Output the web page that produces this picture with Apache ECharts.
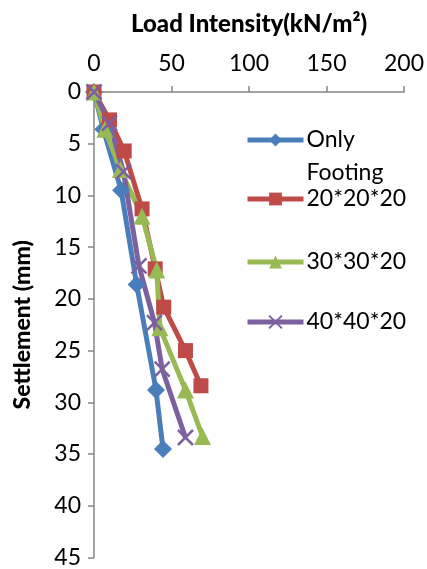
<!DOCTYPE html>
<html style="height: 100%">
<head>
	<meta charset="utf-8">
	<title></title>
	<script type="text/javascript" src="https://cdn.jsdelivr.net/npm/echarts@6/dist/echarts.min.js"></script>
</head>
<body style="height: 100%; margin: 0; background: #fff">
<div id="container" style="width: 427px; height: 569px"></div>
<script type="text/javascript">
	// [load intensity kN/m2, settlement mm]
	var onlyFooting = [[0, 0], [6, 3.6], [17.5, 9.5], [27.5, 18.6], [40, 28.8], [44.5, 34.5]];
	var s20 = [[0, 0], [10, 2.7], [19.5, 5.7], [31, 11.3], [39.5, 17.1], [45, 20.8], [59, 25], [69, 28.4]];
	var s30 = [[0, 0], [7, 3.6], [17, 7.5], [31, 12], [40.5, 17.2], [42.5, 22.8], [59, 28.8], [70, 33.3]];
	var s40 = [[0, 0], [10, 3], [19, 7.7], [29, 16.8], [39, 22.3], [44, 26.8], [59, 33.4]];
	var seriesNames = ['Only Footing', '20*20*20', '30*30*20', '40*40*20'];
	var colors = ['#4a7ebb', '#be4b48', '#98b954', '#7d60a0'];
	var symbols = ['diamond', 'rect', 'triangle', 'path://M0,0 L10,10 M10,0 L0,10'];
	var symbolSizes = [18, 15, 17, 15];
	var allData = [onlyFooting, s20, s30, s40];

	var dom = document.getElementById('container');
	var myChart = echarts.init(dom);
	var font = 'Lato';
	var axisColor = '#868686';

	var series = [];
	var legends = [];
	var legendCenters = [140, 199, 262, 322];
	for (var i = 0; i < allData.length; i++) {
		series.push({
			name: seriesNames[i],
			type: 'line',
			data: allData[i],
			symbol: symbols[i],
			symbolSize: symbolSizes[i],
			showAllSymbol: true,
			lineStyle: {width: 5, color: colors[i]},
			itemStyle: {color: colors[i], borderColor: colors[i], borderWidth: i == 3 ? 2.5 : 0},
			animation: false
		});
		var first = i == 0;
		legends.push({
			data: [seriesNames[i]],
			orient: 'vertical',
			left: 245,
			top: first ? legendCenters[i] - 49.5 : legendCenters[i] - 15,
			itemWidth: 56,
			itemHeight: 16,
			padding: 0,
			itemGap: 0,
			lineStyle: {width: 5},
			textStyle: {fontFamily: font, fontSize: 23, color: '#000', lineHeight: first ? 33 : 30, padding: [0, 0, 0, -2]},
			formatter: function (name) {
				return name == 'Only Footing' ? '\nOnly\nFooting' : name;
			}
		});
	}

	var option = {
		backgroundColor: '#fff',
		title: {
			text: 'Load Intensity(kN/m²)',
			left: 126,
			top: 7,
			textStyle: {fontFamily: font, fontSize: 24, fontWeight: 900, color: '#000'}
		},
		legend: legends,
		grid: {left: 94, right: 23, top: 92, bottom: 10},
		xAxis: {
			type: 'value',
			position: 'top',
			min: 0,
			max: 200,
			interval: 50,
			axisLine: {show: true, lineStyle: {color: axisColor, width: 1.5}},
			axisTick: {show: true, length: 6, lineStyle: {color: axisColor, width: 1.5}},
			axisLabel: {fontFamily: font, fontSize: 23, color: '#000', margin: 17},
			splitLine: {show: false}
		},
		yAxis: {
			type: 'value',
			inverse: true,
			min: 0,
			max: 45,
			interval: 5,
			name: 'Settlement (mm)',
			nameLocation: 'middle',
			nameRotate: 90,
			nameGap: 60,
			nameTextStyle: {fontFamily: font, fontSize: 23, fontWeight: 900, color: '#000'},
			axisLine: {show: true, lineStyle: {color: axisColor, width: 1.5}},
			axisTick: {show: true, length: 6, lineStyle: {color: axisColor, width: 1.5}},
			axisLabel: {fontFamily: font, fontSize: 23, color: '#000', margin: 13},
			splitLine: {show: false}
		},
		series: series
	};
	myChart.setOption(option);
</script>
</body>
</html>
